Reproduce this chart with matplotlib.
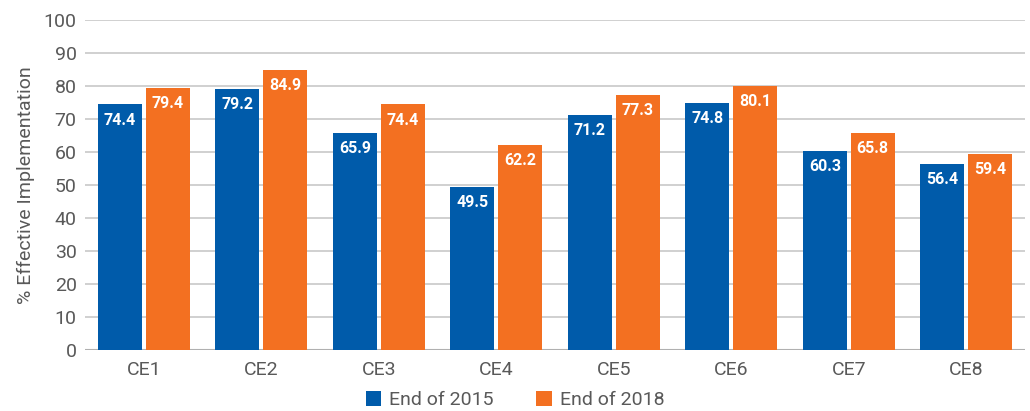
import matplotlib
matplotlib.use("Agg")
import matplotlib.pyplot as plt
import numpy as np

categories = ["CE1", "CE2", "CE3", "CE4", "CE5", "CE6", "CE7", "CE8"]
end_2015 = [74.4, 79.2, 65.9, 49.5, 71.2, 74.8, 60.3, 56.4]
end_2018 = [79.4, 84.9, 74.4, 62.2, 77.3, 80.1, 65.8, 59.4]
series_names = ["End of 2015", "End of 2018"]
y_ticks = [0, 10, 20, 30, 40, 50, 60, 70, 80, 90, 100]

blue = "#005BAA"
orange = "#F37021"
gray = "#595959"

plt.rcParams['font.family'] = ['Roboto', 'DejaVu Sans']

fig = plt.figure(figsize=(10.30, 4.11), dpi=100)
ax = fig.add_axes([85/1030, 1-350/411, 940/1030, 330/411])

x = np.arange(len(categories))
w = 0.375
off = 0.204
b1 = ax.bar(x - off, end_2015, w, color=blue, label=series_names[0], zorder=3)
b2 = ax.bar(x + off, end_2018, w, color=orange, label=series_names[1], zorder=3)

for bars, vals in ((b1, end_2015), (b2, end_2018)):
    for r, v in zip(bars, vals):
        ax.annotate(f"{v:.1f}", (r.get_x() + r.get_width()/2, v),
                    xytext=(0, -6), textcoords="offset points",
                    ha="center", va="top", color="white",
                    fontsize=11.5, fontweight="bold", zorder=4)

ax.set_xlim(-0.5, len(categories) - 0.5)
ax.set_ylim(0, 100)
ax.set_yticks(y_ticks)
ax.set_xticks(x)
ax.set_xticklabels(categories)
ax.tick_params(axis='both', length=0, colors=gray, labelsize=14)
ax.tick_params(axis='y', pad=6)
ax.tick_params(axis='x', pad=8)
ax.grid(axis='y', color="#c8c8c8", linewidth=1.2, zorder=0)
for s in ax.spines.values():
    s.set_visible(False)
ax.axhline(0, color="#b0b0b0", linewidth=1.5, zorder=2)
ax.set_ylabel("% Effective Implementation", color=gray, fontsize=14, labelpad=6)

fig.legend(handles=[b1, b2], loc="center", bbox_to_anchor=(0.5, 1-400/411), ncol=2,
           frameon=False, fontsize=14, labelcolor=gray, handlelength=0.8,
           handleheight=0.8, handletextpad=0.4, columnspacing=2.2,
           borderpad=0, borderaxespad=0)

fig.savefig("out.png", dpi=100)
